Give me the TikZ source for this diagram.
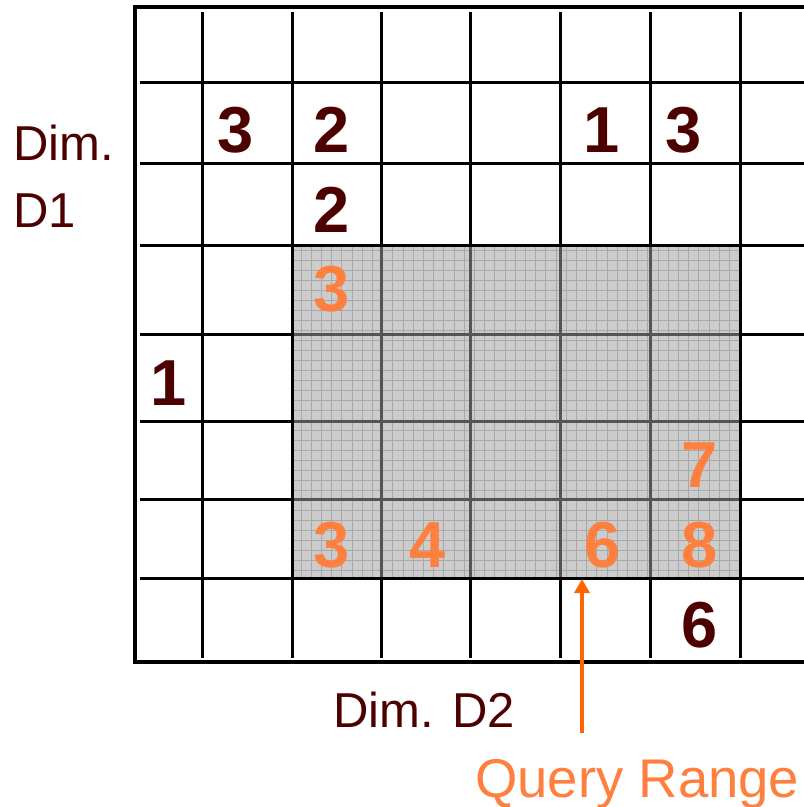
\documentclass[tikz,border=0pt]{standalone}
\usepackage{fontspec}
\setmainfont{Liberation Sans}
\usetikzlibrary{arrows.meta}
\definecolor{maroon}{HTML}{4D0000}
\definecolor{qorange}{HTML}{FF7F3F}
\definecolor{arrorange}{HTML}{FF6600}
\definecolor{shadegray}{HTML}{CCCCCC}
\definecolor{finegray}{HTML}{A8A8A8}
\definecolor{innergray}{HTML}{555555}
\tikzset{
  gridline/.style={line width=3pt, black},
  innerline/.style={line width=3pt, innergray},
  fineline/.style={line width=0.9pt, finegray},
  darknum/.style={font=\fontsize{65}{65}\selectfont\bfseries, text=maroon, anchor=base, inner sep=0pt},
  orangenum/.style={font=\fontsize{65}{65}\selectfont\bfseries, text=qorange, anchor=base, inner sep=0pt},
  axislabel/.style={font=\fontsize{49}{49}\selectfont, text=maroon, anchor=base west, inner sep=0pt},
  querylabel/.style={font=\fontsize{54.5}{54.5}\selectfont, text=qorange, anchor=base west, inner sep=0pt},
  queryarrow/.style={line width=4pt, arrorange, -{Triangle[width=15pt,length=14pt]}}
}
\begin{document}
\begin{tikzpicture}[x=1pt,y=-1pt]
\useasboundingbox (0,0) rectangle (804,807);
\fill[white] (0,0) rectangle (804,807);
% shaded query region
\fill[shadegray] (292,245) rectangle (740,578);
\foreach \i in {0,...,43} { \draw[fineline] ({301+10.2*\i},245) -- ({301+10.2*\i},578); }
\foreach \j in {0,...,32} { \draw[fineline] (292,{250+10*\j}) -- (740,{250+10*\j}); }
% inner grid lines of region
\foreach \y in {334,421,499} { \draw[innerline] (292,\y) -- (740,\y); }
\foreach \x in {381,470,560,650} { \draw[innerline] (\x,245) -- (\x,578); }
% black grid lines
\foreach \y in {82,163,245,578} { \draw[gridline] (140,\y) -- (804,\y); }
\foreach \y in {334,421,499} { \draw[gridline] (140,\y) -- (292,\y); \draw[gridline] (740,\y) -- (804,\y); }
\foreach \x in {202,292,740} { \draw[gridline] (\x,12) -- (\x,658); }
\foreach \x in {381,470,560,650} { \draw[gridline] (\x,12) -- (\x,245); \draw[gridline] (\x,578) -- (\x,658); }
\draw[gridline] (292,245) rectangle (740,578);
% outer frame
\draw[line width=3.5pt] (804,7) -- (135,7) -- (135,662) -- (804,662);
% dark numbers
\node[darknum] (n1) at (236,152) {3};
\node[darknum] (n2) at (332,152) {2};
\node[darknum] (n3) at (602,152) {1};
\node[darknum] (n4) at (684,152) {3};
\node[darknum] (n5) at (332,232) {2};
\node[darknum] (n6) at (169,405) {1};
\node[darknum] (n7) at (700,647) {6};
% orange numbers
\node[orangenum] (o1) at (332,311) {3};
\node[orangenum] (o2) at (700,487) {7};
\node[orangenum] (o3) at (332,567) {3};
\node[orangenum] (o4) at (428,567) {4};
\node[orangenum] (o5) at (603,567) {6};
\node[orangenum] (o6) at (700,567) {8};
% axis labels
\node[axislabel] (d1a) at (13,160) {Dim.};
\node[axislabel] (d1b) at (13,227) {D1};
\node[axislabel] (d2) at (333,727) {Dim. D2};
% query range
\node[querylabel] (qr) at (475,797) {Query Range};
\coordinate (qtail) at (582,733);
\coordinate (qtip) at (582,579);
\draw[queryarrow] (qtail) -- (qtip);
\end{tikzpicture}
\end{document}
